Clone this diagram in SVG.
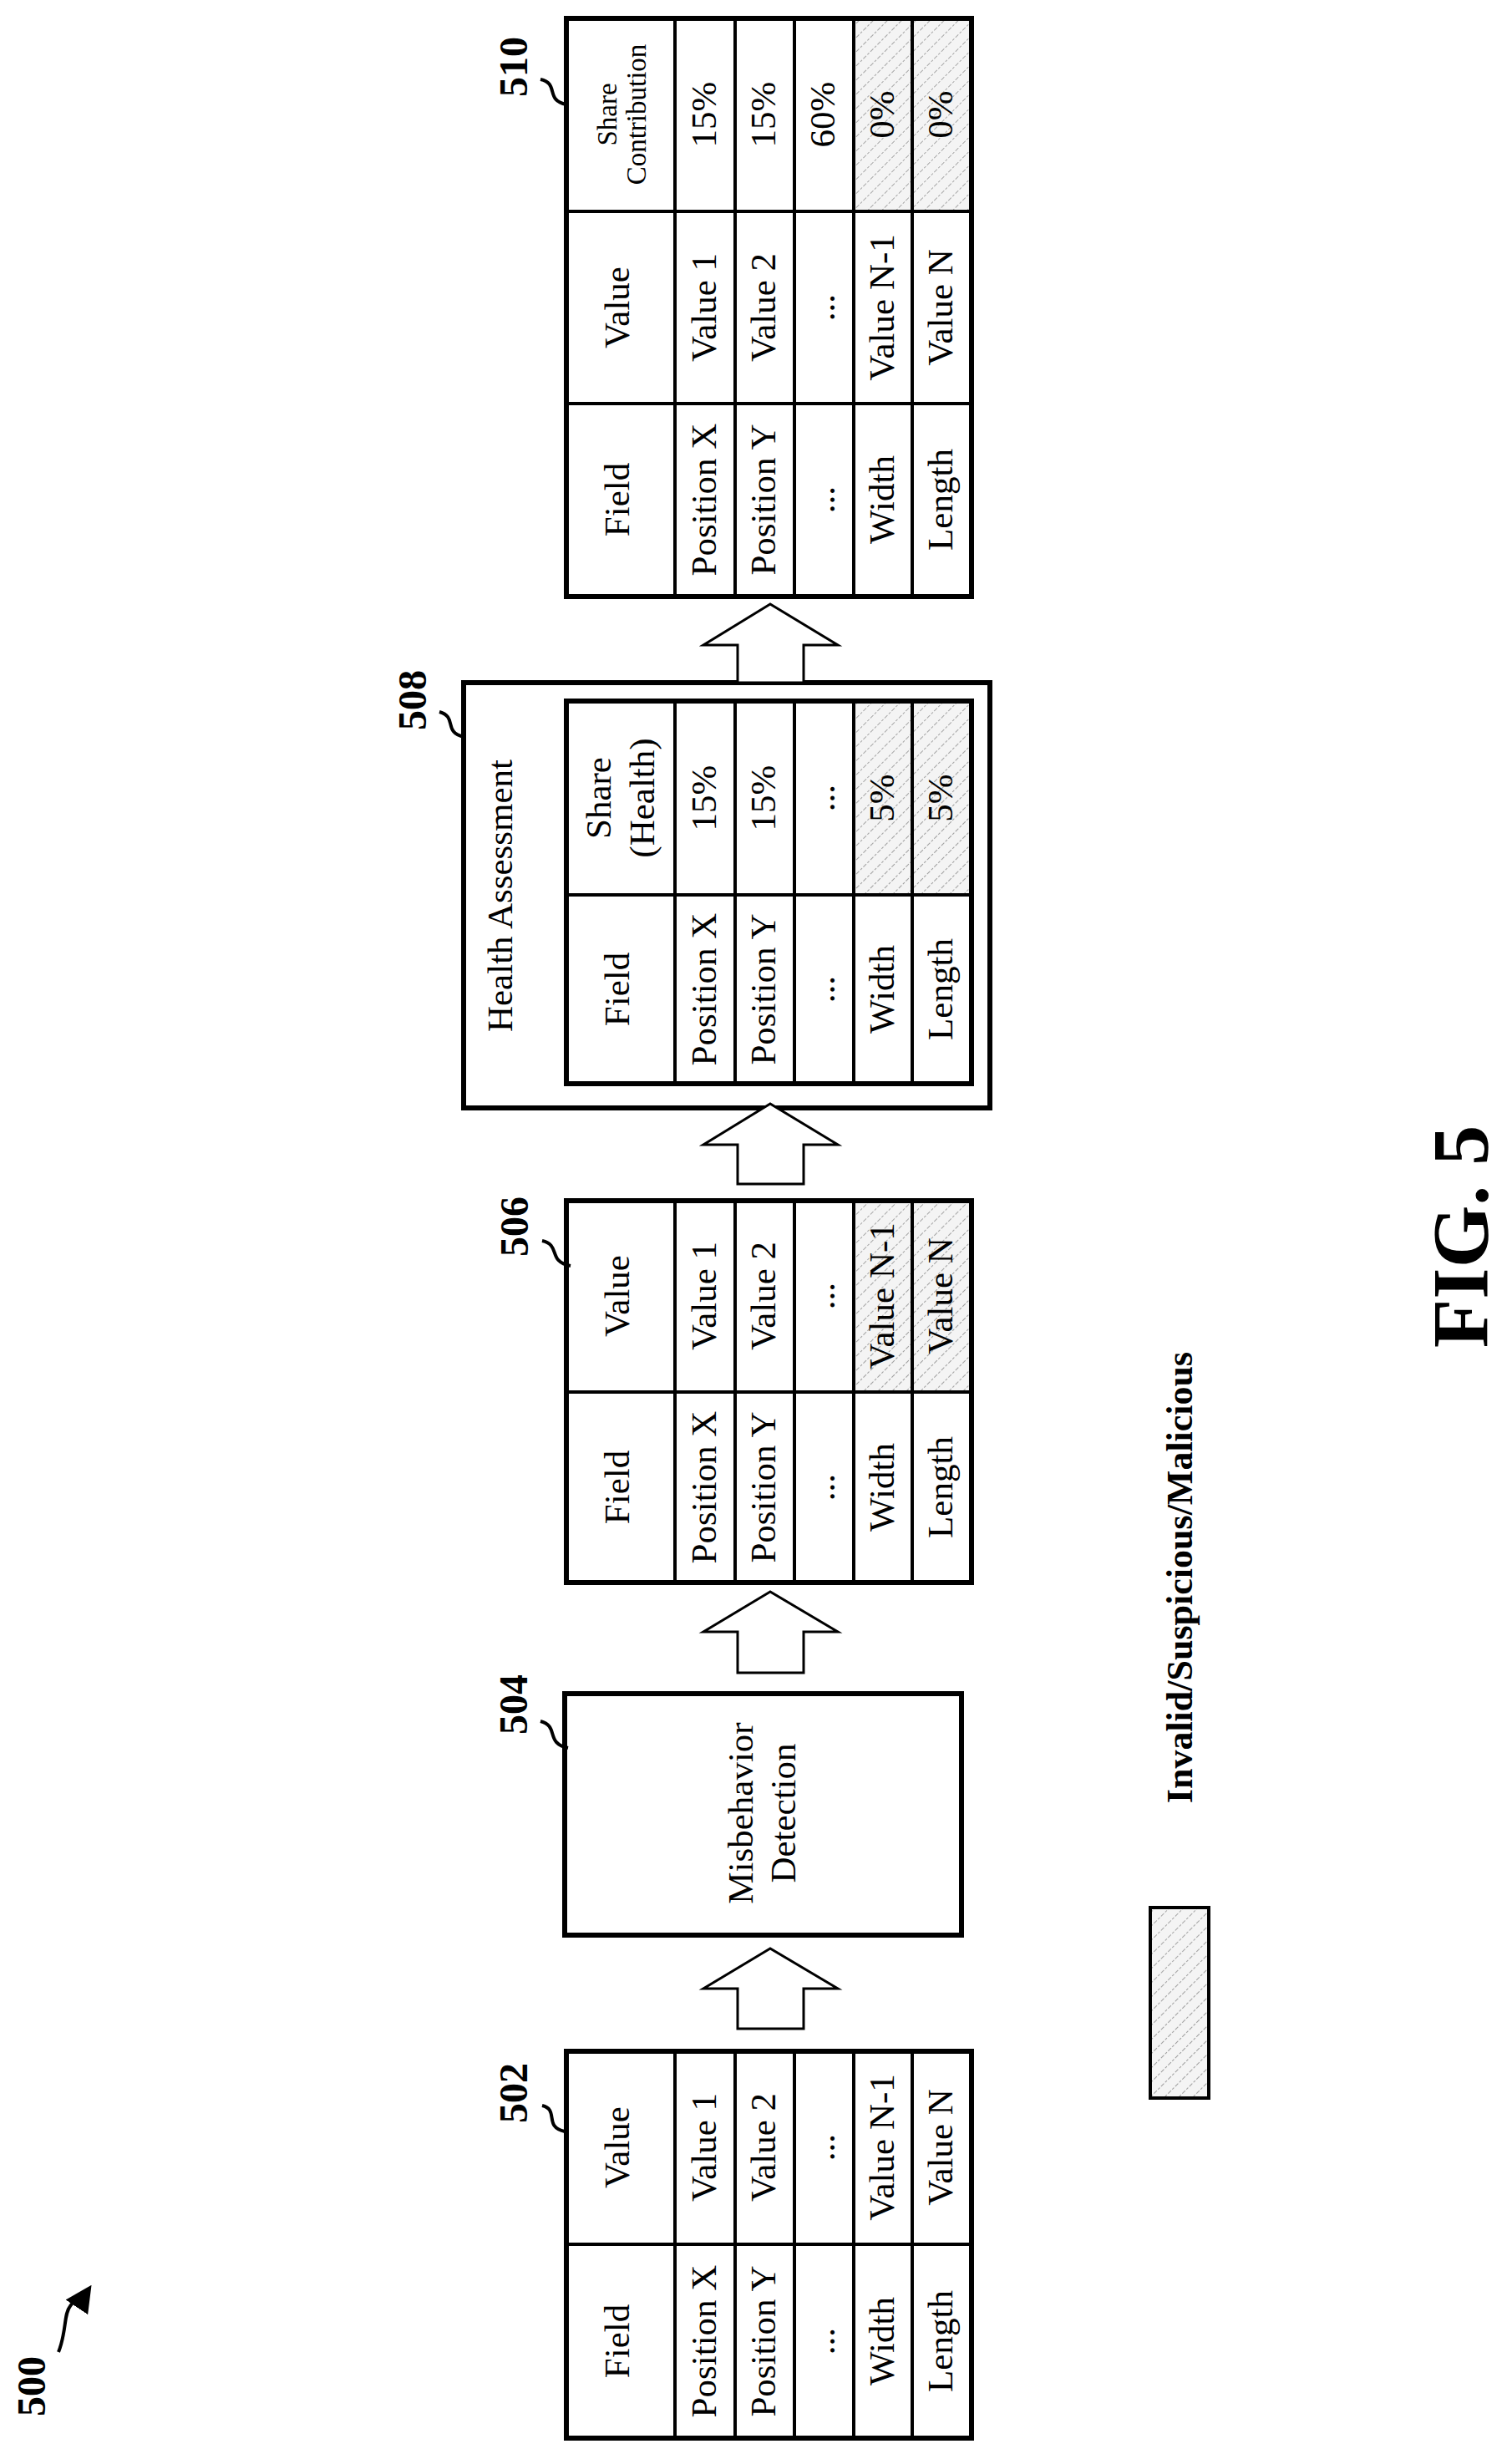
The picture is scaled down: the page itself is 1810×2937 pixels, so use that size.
<svg xmlns="http://www.w3.org/2000/svg" width="1810" height="2937" viewBox="0 0 1810 2937">
<style>
.c{fill:#fff;stroke:#000;stroke-width:4}
.o{fill:none;stroke:#000;stroke-width:6}
.h{fill:url(#hatch);stroke:#000;stroke-width:4}
.l{stroke:#000;stroke-width:4}
text{font-family:"Liberation Serif","Times New Roman",serif;font-size:43px;text-anchor:middle;dominant-baseline:central;fill:#000}
.b{font-weight:bold;font-size:48px}
.s{font-size:33px}
.ar{fill:#fff;stroke:#000;stroke-width:3}
.sq{fill:none;stroke:#000;stroke-width:4}
</style>
<defs>
<pattern id="hatch" width="12" height="12" patternUnits="userSpaceOnUse" patternTransform="rotate(45)">
<rect width="12" height="12" fill="#f4f4f4"/>
<line x1="0" y1="0" x2="0" y2="12" stroke="#888" stroke-width="1.5" stroke-dasharray="3,2"/>
</pattern>
<marker id="ah" viewBox="0 0 10 10" refX="8" refY="5" markerWidth="8" markerHeight="8" orient="auto"><path d="M0,0 L10,5 L0,10 Z" fill="#000"/></marker>
</defs>

<g id="n500">
<text class="b" transform="translate(37,2856) rotate(-90)">500</text>
<path class="sq" d="M70,2815 C80,2790 76,2770 84,2760 C90,2750 98,2752 106,2740" marker-end="url(#ah)"/>
</g>

<g id="n502">
<rect class="o" x="678" y="2455" width="485" height="463"/>
<line class="l" x1="808" y1="2455" x2="808" y2="2918"/>
<line class="l" x1="880" y1="2455" x2="880" y2="2918"/>
<line class="l" x1="951" y1="2455" x2="951" y2="2918"/>
<line class="l" x1="1022" y1="2455" x2="1022" y2="2918"/>
<line class="l" x1="1092" y1="2455" x2="1092" y2="2918"/>
<line class="l" x1="678" y1="2686" x2="1163" y2="2686"/>
<text transform="translate(738,2570) rotate(-90)">Value</text>
<text transform="translate(738,2802) rotate(-90)">Field</text>
<text transform="translate(842,2570) rotate(-90)">Value 1</text>
<text transform="translate(842,2802) rotate(-90)">Position X</text>
<text transform="translate(913,2570) rotate(-90)">Value 2</text>
<text transform="translate(913,2802) rotate(-90)">Position Y</text>
<text transform="translate(984,2570) rotate(-90)">...</text>
<text transform="translate(984,2802) rotate(-90)">...</text>
<text transform="translate(1055,2570) rotate(-90)">Value N-1</text>
<text transform="translate(1055,2802) rotate(-90)">Width</text>
<text transform="translate(1125,2570) rotate(-90)">Value N</text>
<text transform="translate(1125,2802) rotate(-90)">Length</text>
<text class="b" transform="translate(614,2505) rotate(-90)">502</text>
<path class="sq" d="M649,2520 C670,2525 650,2545 676,2551"/>
</g>

<g id="n504">
<rect class="o" x="676" y="2027" width="475" height="289"/>
<text transform="translate(886,2170) rotate(-90)">Misbehavior</text>
<text transform="translate(937,2170) rotate(-90)">Detection</text>
<text class="b" transform="translate(614,2040) rotate(-90)">504</text>
<path class="sq" d="M647,2060 C670,2066 652,2086 680,2092"/>
</g>

<g id="n506">
<rect x="1022" y="1437" width="141" height="229" style="fill:url(#hatch)"/>
<rect class="o" x="678" y="1437" width="485" height="457"/>
<line class="l" x1="808" y1="1437" x2="808" y2="1894"/>
<line class="l" x1="880" y1="1437" x2="880" y2="1894"/>
<line class="l" x1="951" y1="1437" x2="951" y2="1894"/>
<line class="l" x1="1022" y1="1437" x2="1022" y2="1894"/>
<line class="l" x1="1092" y1="1437" x2="1092" y2="1894"/>
<line class="l" x1="678" y1="1666" x2="1163" y2="1666"/>
<text transform="translate(738,1551) rotate(-90)">Value</text>
<text transform="translate(738,1780) rotate(-90)">Field</text>
<text transform="translate(842,1551) rotate(-90)">Value 1</text>
<text transform="translate(842,1780) rotate(-90)">Position X</text>
<text transform="translate(913,1551) rotate(-90)">Value 2</text>
<text transform="translate(913,1780) rotate(-90)">Position Y</text>
<text transform="translate(984,1551) rotate(-90)">...</text>
<text transform="translate(984,1780) rotate(-90)">...</text>
<text transform="translate(1055,1551) rotate(-90)">Value N-1</text>
<text transform="translate(1055,1780) rotate(-90)">Width</text>
<text transform="translate(1125,1551) rotate(-90)">Value N</text>
<text transform="translate(1125,1780) rotate(-90)">Length</text>
<text class="b" transform="translate(615,1468) rotate(-90)">506</text>
<path class="sq" d="M649,1485 C672,1490 655,1510 683,1515"/>
</g>

<g id="n508">
<rect class="o" x="555" y="817" width="630" height="509"/>
<text transform="translate(598,1072) rotate(-90)">Health Assessment</text>
<rect x="1022" y="839" width="141" height="232" style="fill:url(#hatch)"/>
<rect class="o" x="678" y="839" width="485" height="458"/>
<line class="l" x1="808" y1="839" x2="808" y2="1297"/>
<line class="l" x1="880" y1="839" x2="880" y2="1297"/>
<line class="l" x1="951" y1="839" x2="951" y2="1297"/>
<line class="l" x1="1022" y1="839" x2="1022" y2="1297"/>
<line class="l" x1="1092" y1="839" x2="1092" y2="1297"/>
<line class="l" x1="678" y1="1071" x2="1163" y2="1071"/>
<text transform="translate(716,955) rotate(-90)">Share</text>
<text transform="translate(768,955) rotate(-90)">(Health)</text>
<text transform="translate(738,1184) rotate(-90)">Field</text>
<text transform="translate(842,955) rotate(-90)">15%</text>
<text transform="translate(842,1184) rotate(-90)">Position X</text>
<text transform="translate(913,955) rotate(-90)">15%</text>
<text transform="translate(913,1184) rotate(-90)">Position Y</text>
<text transform="translate(984,955) rotate(-90)">...</text>
<text transform="translate(984,1184) rotate(-90)">...</text>
<text transform="translate(1055,955) rotate(-90)">5%</text>
<text transform="translate(1055,1184) rotate(-90)">Width</text>
<text transform="translate(1125,955) rotate(-90)">5%</text>
<text transform="translate(1125,1184) rotate(-90)">Length</text>
<text class="b" transform="translate(493,838) rotate(-90)">508</text>
<path class="sq" d="M526,852 C548,858 530,876 555,882"/>
</g>

<g id="n510">
<rect x="1022" y="22" width="141" height="231" style="fill:url(#hatch)"/>
<rect class="o" x="678" y="22" width="485" height="692"/>
<line class="l" x1="808" y1="22" x2="808" y2="714"/>
<line class="l" x1="880" y1="22" x2="880" y2="714"/>
<line class="l" x1="951" y1="22" x2="951" y2="714"/>
<line class="l" x1="1022" y1="22" x2="1022" y2="714"/>
<line class="l" x1="1092" y1="22" x2="1092" y2="714"/>
<line class="l" x1="678" y1="253" x2="1163" y2="253"/>
<line class="l" x1="678" y1="483" x2="1163" y2="483"/>
<text class="s" transform="translate(727,137) rotate(-90)">Share</text>
<text class="s" transform="translate(762,137) rotate(-90)">Contribution</text>
<text transform="translate(738,368) rotate(-90)">Value</text>
<text transform="translate(738,598) rotate(-90)">Field</text>
<text transform="translate(842,137) rotate(-90)">15%</text>
<text transform="translate(842,368) rotate(-90)">Value 1</text>
<text transform="translate(842,598) rotate(-90)">Position X</text>
<text transform="translate(913,137) rotate(-90)">15%</text>
<text transform="translate(913,368) rotate(-90)">Value 2</text>
<text transform="translate(913,598) rotate(-90)">Position Y</text>
<text transform="translate(984,137) rotate(-90)">60%</text>
<text transform="translate(984,368) rotate(-90)">...</text>
<text transform="translate(984,598) rotate(-90)">...</text>
<text transform="translate(1055,137) rotate(-90)">0%</text>
<text transform="translate(1055,368) rotate(-90)">Value N-1</text>
<text transform="translate(1055,598) rotate(-90)">Width</text>
<text transform="translate(1125,137) rotate(-90)">0%</text>
<text transform="translate(1125,368) rotate(-90)">Value N</text>
<text transform="translate(1125,598) rotate(-90)">Length</text>
<text class="b" transform="translate(614,80) rotate(-90)">510</text>
<path class="sq" d="M647,95 C670,100 652,120 678,125"/>
</g>

<g id="connectors">
<polygon class="ar" points="922,2332 842,2380 883,2380 883,2428 962,2428 962,2380 1003,2380"/>
<polygon class="ar" points="922,1905 842,1953 883,1953 883,2002 962,2002 962,1953 1003,1953"/>
<polygon class="ar" points="922,1321 842,1370 883,1370 883,1417 962,1417 962,1370 1003,1370"/>
<polygon class="ar" points="922,723 842,772 883,772 883,817 962,817 962,772 1003,772"/>
</g>

<g id="legend">
<rect class="h" x="1377" y="2283" width="70" height="228"/>
<text class="b" style="font-size:44px" transform="translate(1412,1888) rotate(-90)">Invalid/Suspicious/Malicious</text>
</g>

<text class="b" style="font-size:96px" transform="translate(1748,1480) rotate(-90)">FIG. 5</text>
</svg>
